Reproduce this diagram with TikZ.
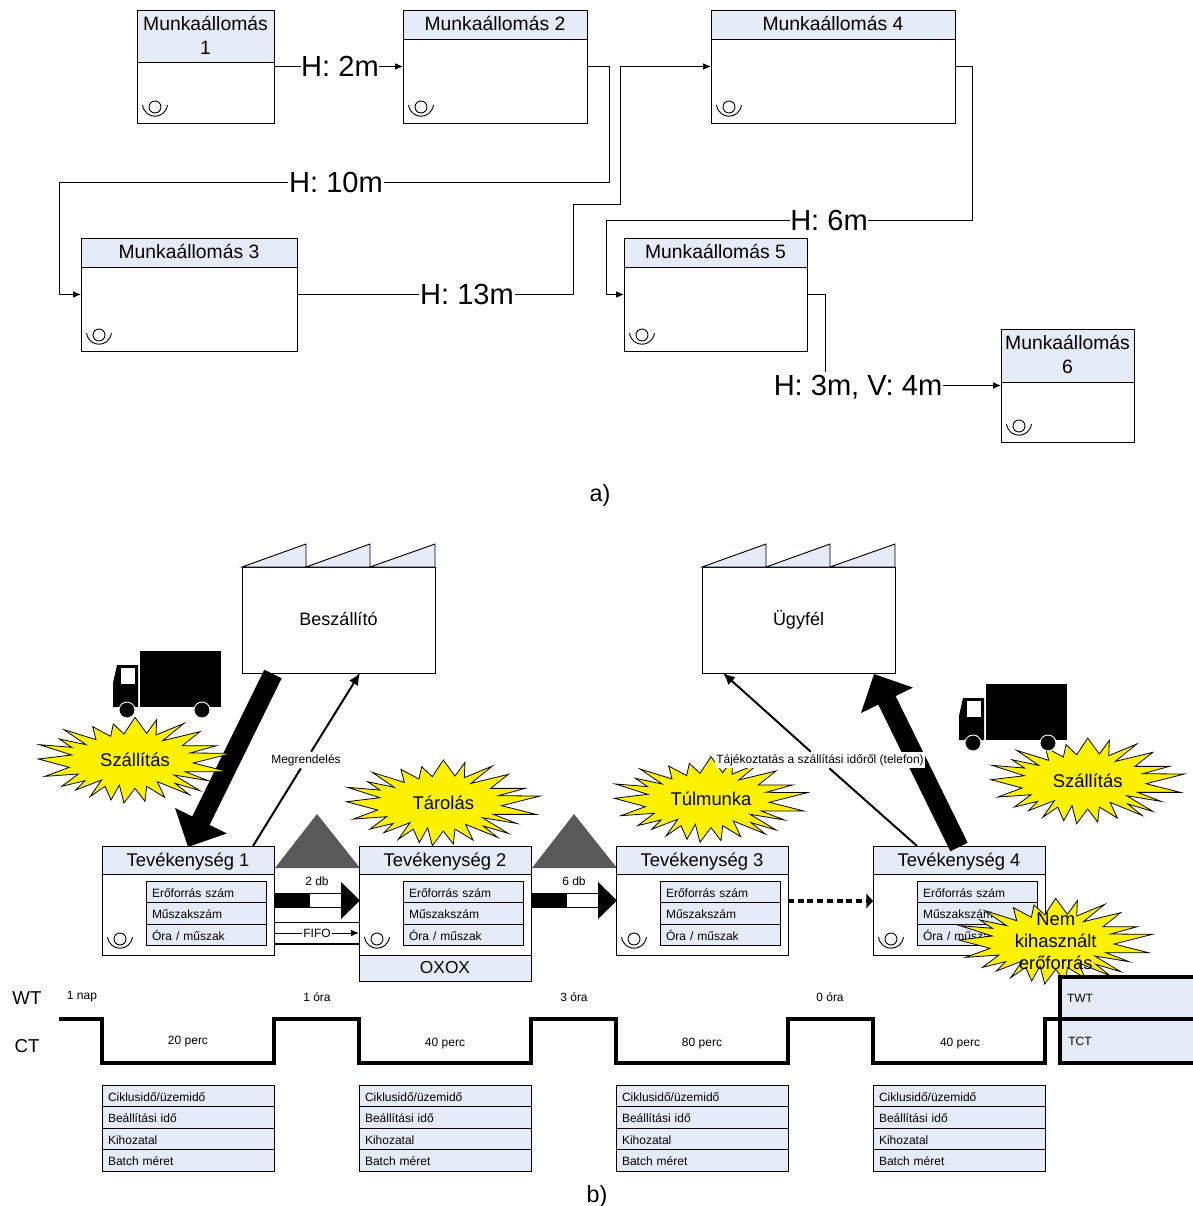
\documentclass[tikz,border=0pt]{standalone}
\usepackage{fontspec}
\setmainfont{Liberation Sans}
\usetikzlibrary{arrows.meta}
\definecolor{boxblue}{HTML}{E6ECF7}
\definecolor{invgray}{HTML}{595959}
\tikzset{
  every node/.style={inner sep=0pt,outer sep=0pt},
  thinbox/.style={draw=black,line width=0.7pt},
  wsbox/.style={thinbox,fill=white,anchor=north west},
  headbox/.style={thinbox,fill=boxblue,anchor=north west,align=center,text depth=1.5pt,font=\fontsize{14.5}{18}\selectfont},
  acthead/.style={thinbox,fill=boxblue,anchor=north west,text height=9pt,text depth=0pt,font=\fontsize{13.8}{16}\selectfont},
  rowcell/.style={thinbox,fill=boxblue,anchor=north west,align=left,font=\fontsize{9}{11}\selectfont,
    text height=9pt,text depth=1pt,inner xsep=4.5pt},
  factorybox/.style={thinbox,fill=white,minimum width=144.75pt,minimum height=79.5pt,text height=10.5pt,text depth=3pt,
    font=\fontsize{13.5}{16}\selectfont},
  bigtext/.style={fill=white,font=\fontsize{21.8}{24}\selectfont,text height=15.5pt,text depth=0pt,inner xsep=0.5pt},
  smalltext/.style={font=\fontsize{9}{11}\selectfont},
  bursttext/.style={align=center,font=\fontsize{13.8}{16.5}\selectfont},
  burstline/.style={draw=black,line width=0.6pt,fill=yellow,line join=miter,miter limit=20},
  conn/.style={draw=black,line width=0.7pt,-{Latex[length=6pt,width=5pt]}},
  plainline/.style={draw=black,line width=0.7pt},
  orderline/.style={draw=black,line width=1.5pt,-{Latex[length=9pt,width=8pt]}},
  pushline/.style={draw=black,line width=14.5pt,-{Triangle[length=22pt,width=42pt]}},
}
\newcommand{\opicon}[1]{\begin{scope}[shift={(#1)}]
  \draw[line width=0.7pt] (18,-16) circle [radius=6];
  \draw[line width=0.7pt] (5.5,-18) .. controls (8,-3) and (28,-3) .. (30.5,-18);
\end{scope}}
\newcommand{\truck}[2]{\begin{scope}[shift={(#1,#2)}]
  \fill (27,0) rectangle (108,56);
  \fill (0,56) -- (0,32) -- (4,14) -- (25,14) -- (25,56) -- cycle;
  \fill[white] (8,17) rectangle (22,33);
  \filldraw[draw=white,line width=0.7pt] (14,59) circle [radius=8];
  \filldraw[draw=white,line width=0.7pt] (89,59) circle [radius=8];
\end{scope}}
\newcommand{\factory}[1]{\begin{scope}[shift={(#1)}]
  \filldraw[fill=boxblue,line width=0.7pt] (0,0) -- (64,-23) -- (64,0) -- (128,-23) -- (128,0) -- (193,-23) -- (193,0) -- cycle;
\end{scope}}
\newcommand{\pushmark}[1]{\begin{scope}[shift={(#1)}]
  \fill (0,893) rectangle (34,908);
  \draw[line width=1.1pt,fill=white] (34,893.5) rectangle (67,907.5);
  \fill (66,882) -- (85,900.5) -- (66,919) -- cycle;
\end{scope}}
% the burst outline, in units of a third of a pixel
\newcommand{\burst}[4]{\begin{scope}[shift={(#2,#3)},x=0.25pt,y=-0.25pt,shift={(-295,-143)}]
  \path[burstline] (295,15) -- (330,63) -- (360,22) -- (358,68) -- (442,33) -- (378,85) -- (490,58) -- (437,100)
    -- (540,100) -- (460,122) -- (585,123) -- (470,152) -- (573,178) -- (445,178) -- (515,205) -- (412,188)
    -- (490,235) -- (415,213) -- (458,247) -- (362,208) -- (384,255) -- (330,222) -- (325,267) -- (295,228)
    -- (262,272) -- (248,218) -- (223,263) -- (205,222) -- (160,253) -- (195,203) -- (117,233) -- (145,205)
    -- (75,222) -- (125,185) -- (25,192) -- (98,165) -- (5,140) -- (105,128) -- (8,97) -- (105,105)
    -- (68,80) -- (148,97) -- (82,52) -- (178,82) -- (168,43) -- (222,72) -- (230,35) -- (262,65) -- cycle;
\end{scope}
\node[bursttext] (#1) at (#2,#3) {#4};}

\begin{document}
\begin{tikzpicture}[x=0.75pt,y=-0.75pt]
\useasboundingbox (0,0) rectangle (1192,1206);
% a) workstations
\foreach \n/\x/\y/\w/\hd/\t in {1/137/10/137/52/{Munkaállomás\\1},2/403/10/184/29/{Munkaállomás 2},
  3/81/238/216/29/{Munkaállomás 3},4/711/10/244/29/{Munkaállomás 4},
  5/624/238/183/29/{Munkaállomás 5},6/1001/329/133/53/{Munkaállomás\\6}}{
  \node[wsbox,minimum width=\w*0.75pt,minimum height=84.75pt] (ws\n) at (\x,\y) {};
  \node[headbox,minimum width=\w*0.75pt,minimum height=\hd*0.75pt] (wshead\n) at (\x,\y) {\t};
  \opicon{ws\n.south west}
}
\node[bigtext] (h1) at (340,66.5) {H: 2m};
\node[bigtext] (h2) at (336,182) {H: 10m};
\node[bigtext] (h3) at (467,294.5) {H: 13m};
\node[bigtext] (h4) at (829,220) {H: 6m};
\node[bigtext] (h5) at (858,385.5) {H: 3m, V: 4m};
\draw[plainline] (ws1.east) -- (h1.west);
\draw[conn] (h1.east) -- (ws2.west);
\draw[plainline] (ws2.east) -- (609,66.5) -- (609,182) -- (h2.east);
\draw[conn] (h2.west) -- (59,182) -- (59,294.5) -- (ws3.west);
\draw[plainline] (ws3.east) -- (h3.west);
\draw[conn] (h3.east) -- (573,294.5) -- (573,204) -- (620,204) -- (620,66.5) -- (ws4.west);
\draw[plainline] (ws4.east) -- (972,66.5) -- (972,220) -- (h4.east);
\draw[conn] (h4.west) -- (606,220) -- (606,294.5) -- (ws5.west);
\draw[plainline] (ws5.east) -- (825,294.5) -- (825,372);
\draw[conn] (h5.east) -- (ws6.west);
\node[font=\fontsize{17.5}{20}\selectfont] (capa) at (600,495) {a)};
% b) factories
\node[factorybox] (sup) at (338.5,620) {Beszállító};
\node[factorybox] (cust) at (798.5,620) {Ügyfél};
\factory{sup.north west}
\factory{cust.north west}
% inventory
\fill[invgray] (275,868) -- (317,814) -- (360,868) -- cycle;
\fill[invgray] (532,868) -- (574,814) -- (617,868) -- cycle;
% activities
\foreach \n/\x/\t in {1/102/Tevékenység 1,2/359/Tevékenység 2,3/616/Tevékenység 3,4/873/Tevékenység 4}{
  \node[wsbox,minimum width=129pt,minimum height=81.75pt] (act\n) at (\x,846) {};
  \node[acthead,minimum width=129pt,minimum height=21pt] (acthead\n) at (\x,846) {\t};
  \opicon{act\n.south west}
  \node[rowcell,minimum width=90pt,text width=81pt,minimum height=16.2pt] (res\n) at (\x+44,881) {Erőforrás szám};
  \node[rowcell,minimum width=90pt,text width=81pt,minimum height=16.2pt] (shift\n) at (\x+44,902.6) {Műszakszám};
  \node[rowcell,minimum width=90pt,text width=81pt,minimum height=16.2pt] (hour\n) at (\x+44,924.2) {Óra / műszak};
  \node[rowcell,minimum width=129pt,text width=120pt,minimum height=16.2pt] (cyc\n) at (\x,1085) {Ciklusidő/üzemidő};
  \node[rowcell,minimum width=129pt,text width=120pt,minimum height=16.2pt] (setup\n) at (\x,1106.6) {Beállítási idő};
  \node[rowcell,minimum width=129pt,text width=120pt,minimum height=16.2pt] (yield\n) at (\x,1128.2) {Kihozatal};
  \node[rowcell,minimum width=129pt,text width=120pt,minimum height=16.2pt] (batch\n) at (\x,1149.8) {Batch méret};
}
\node[thinbox,fill=boxblue,anchor=north west,minimum width=129pt,minimum height=19.5pt,font=\fontsize{13}{15}\selectfont] (oxox) at (359,955) {OXOX};
% flows between activities
\pushmark{275,0}
\pushmark{532,0}
\node[smalltext] (db1) at (317,881) {2 db};
\node[smalltext] (db2) at (574,881) {6 db};
\draw[line width=1.2pt] (act1.east |- 0,922.5) -- (act2.west |- 0,922.5);
\draw[line width=1.2pt] (act1.east |- 0,944) -- (act2.west |- 0,944);
\node[smalltext,fill=white,inner xsep=1pt] (fifo) at (317,933) {FIFO};
\draw[plainline] (act1.east |- fifo) -- (fifo.west);
\draw[conn] (fifo.east) -- (act2.west |- fifo);
\draw[line width=2.5pt,dash pattern=on 4.5pt off 2.8pt,-{Triangle[length=5pt,width=11pt]}] (act3.east |- 0,901) -- (act4.west |- 0,901);
% supplier and customer arrows
\coordinate (supout) at (273,674);
\coordinate (supin) at (360,673);
\coordinate (custin) at (723,673);
\coordinate (custout) at (874,674);
\coordinate (act1top) at (188,847);
\coordinate (act1order) at (253,846);
\coordinate (act4info) at (917,846);
\coordinate (act4out) at (959,847);
\draw[pushline] (supout) -- (act1top);
\draw[pushline] (act4out) -- (custout);
\node[smalltext,inner ysep=2pt] (order) at (306,760) {Megrendelés};
\draw[draw=black,line width=1.5pt] (act1order) -- (order);
\draw[orderline] (order) -- (supin);
% bursts
\burst{b1}{135}{760}{Szállítás}
\burst{b2}{443.3}{802.7}{Tárolás}
\burst{b3}{711}{799.3}{Túlmunka}
\burst{b4}{1087.7}{780.7}{Szállítás}
\burst{b5}{1055.7}{941}{Nem\\kihasznált\\erőforrás}
\node[smalltext,fill=white,inner ysep=2pt,inner xsep=1pt] (info) at (820,760) {Tájékoztatás a szállítási időről (telefon)};
\draw[draw=black,line width=1.5pt] (act4info) -- (info);
\draw[orderline] (info) -- (custin);
\truck{113}{651}
\truck{959}{684}
% timeline
\node[font=\fontsize{14}{16}\selectfont] (wt) at (27,998) {WT};
\node[font=\fontsize{14}{16}\selectfont] (ct) at (27,1046) {CT};
\draw[line width=2.4pt,fill=boxblue] (1060,1063) -- (1060,977) -- (1200,977) -- (1200,1063) -- cycle;
\draw[line width=2.4pt] (1060,1019) -- (1200,1019);
\draw[line width=2.4pt] (59,1019) -- (102,1019) -- (102,1063) -- (274,1063) -- (274,1019) -- (359,1019) -- (359,1063) -- (531,1063)
  -- (531,1019) -- (616,1019) -- (616,1063) -- (788,1063) -- (788,1019) -- (873,1019) -- (873,1063) -- (1045,1063) -- (1045,1019) -- (1060,1019);
\node[smalltext] (twt) at (1080,998) {TWT};
\node[smalltext] (tct) at (1080,1041) {TCT};
\foreach \x/\y/\t/\m in {82/997/1 nap/w1,317/997/1 óra/w2,574/997/3 óra/w3,830/997/0 óra/w4,
  188/1042/20 perc/c1,445/1044/40 perc/c2,702/1044/80 perc/c3,960/1044/40 perc/c4}{
  \node[smalltext] (\m) at (\x,\y) {\t};
}
\node[font=\fontsize{17.5}{20}\selectfont] (capb) at (597,1196) {b)};
\end{tikzpicture}
\end{document}
